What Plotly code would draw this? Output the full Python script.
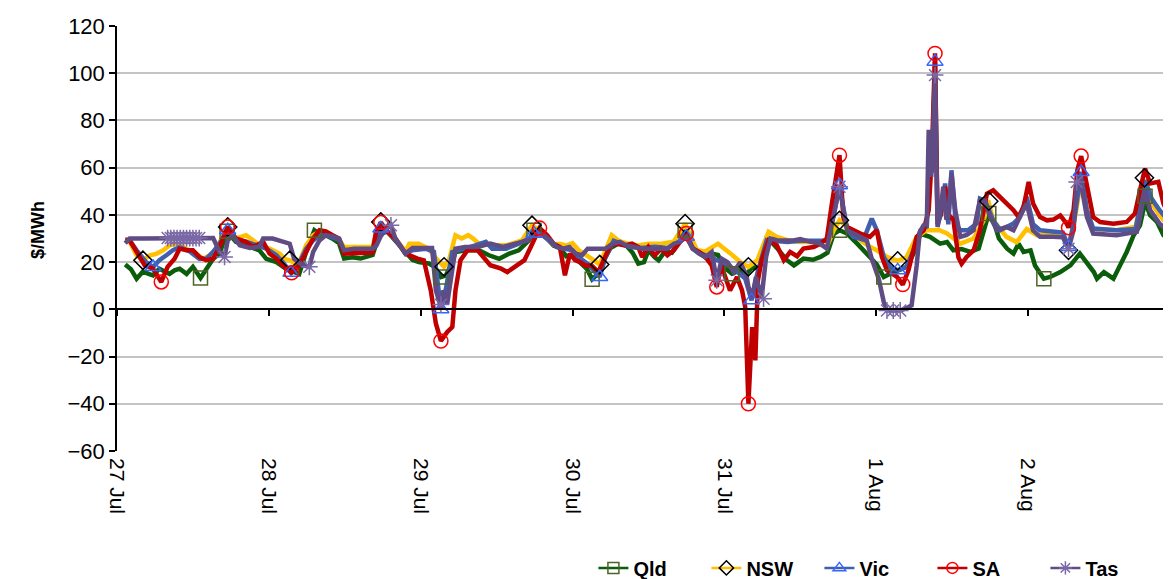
import plotly.graph_objects as go

# Hours since 27 Jul 00:00, price in $/MWh
day_ticks = [0, 24, 48, 72, 96, 120, 144]
day_labels = ["27 Jul", "28 Jul", "29 Jul", "30 Jul", "31 Jul", "1 Aug", "2 Aug"]
y_ticks = [-60, -40, -20, 0, 20, 40, 60, 80, 100, 120]
y_grid = [-60, -40, -20, 0, 20, 40, 60, 80, 100]

qld = [(1.3,19),(2.2,17),(3.1,13),(4.1,16),(5,15),(5.7,14.4),(6.7,17.2),(7.5,16),(8.3,15),(9.1,16.5),(9.9,17.2),(11,15),(12,18),(13.2,13.3),(14.1,17.2),(15.2,21.4),(16.2,23.6),(17.4,33),(18.8,28.6),(20.4,27),(21.5,26),(22.5,25),(23.6,21.4),(25.2,20),(26.7,17.2),(27.8,15.8),(28.8,15),(29.9,24.3),(31.2,33.5),(32.3,31.4),(33.3,31),
       (34,30),(35.1,28),(35.9,21.5),(37.2,22),(38.5,21.5),(39.5,22.5),(40.4,23),(41,28),(41.7,32),(42.7,33),(44,29),(45.6,24.3),(46.7,21),(47.7,20),(49.3,19.4),(50.2,18),(51.2,13.7),(52,14.4),(53,20),(53.5,24.3),(55.1,25),(57.2,25),(58.8,22.9),(60.4,21.4),(62,23.6),(63.5,25),(65.1,29.2),(65.9,33.5),
       (67,32),(68,30),(69,27),(70,26),(71,22.5),(72,22.9),(73.2,20),(74.3,17),(75.1,12.7),(76,15),(77,21),(78,26),(79.3,28),(80.5,27),(81.5,24),(82.4,19.4),(83.3,20),(84,25),(85,22),(85.6,20.8),(86.6,24.5),(87.7,24),(88.7,28),(89.8,33.5),(90.8,27),(91.9,24),(93,22),(94,23.6),(95,23),(95.9,18),(97.2,15.1),(98.5,16.5),(99.5,15),(100.5,18),(101.5,17),(102.7,30.7),(104.3,26),(105.9,20.8),(107,18.6),(108.5,21.5),(110,21),(111.2,22.2),(112.3,24),(113.3,32),(114.2,33.5),(115.4,32.1),(117,27.8),(118.5,23.6),(120.1,19),(121.2,13.7),(122.5,15.5),(124,17),(124.8,18),(125.9,23.6),(127,32),(128.5,30.7),(130.1,27.8),(131.2,28.5),(132.2,25),(133.5,25.5),(134.9,24.3),(136.2,25.7),(137,32.8),(137.8,40.6),(138.6,37),(139.4,30),(140.7,25.7),(141.7,23.6),(142.5,27.8),(143.3,24.3),(144.4,25),(145.1,18.6),(146.5,13),(147.5,13.7),(149.1,15.8),(150.7,18.6),(152.2,23.6),(153.3,20),(154.4,15.8),(154.9,13),(156,15.8),(157.5,13),(158.6,18.6),(159.6,24.3),(160.7,31.4),(161.7,35.6),(162.5,45.5),(163.3,39.9),(164.4,37),(165.4,31.4),(166.6,28.6)]

nsw = [(1.3,29),(2,28.6),(3.1,22.9),(4.1,20.8),(5.2,22.9),(6.2,23.5),(7.3,25),(8.3,27.1),(9.4,27.8),(10.4,26.4),(11.5,25),(12.5,23.6),(13.6,21.4),(14.7,22.9),(15.7,25.7),(16.7,30.7),(17.5,34.9),(18.8,30),(20.4,31.4),(21.5,29.2),(22.5,27.1),(24.1,25.7),(25.7,23.6),(26.5,21.4),(27.3,20.8),(28.6,18.6),(29.9,27.1),(31,31.4),(32,32.8),(33,33),
       (34,31.5),(35.1,29.5),(35.9,26.4),(37.5,26.4),(39,26),(40.4,26.4),(40.9,32),(41.7,37),(42.7,33),(44,30),(45.6,24.5),(46.2,27.8),(47.7,27.8),(49.3,25.7),(50.3,22),(51.7,18),(52.5,21),(53.5,31.4),(54.5,30),(55.5,31.4),(56.3,30),(57.2,27.8),(59.3,27.1),(61.5,27.1),(64,29.2),(65.6,35.6),
       (67,33),(68,31),(69,27.5),(70,27.8),(71,27),(72,28),(73,25),(74,23.5),(75,21.5),(76.3,19),(77.2,25),(78.2,31.4),(79.3,29),(80.5,28),(82.4,27.1),(84,27.8),(86,27.8),(88,28.6),(89.8,36.3),(90.8,30),(91.7,25),(93,24.5),(95,27.8),(97,23.6),(98.5,20.1),(99.8,18),(101.2,20.8),(103,32.8),(104.3,30.7),(106,29.3),(108,28.5),(110,28.5),(112.2,26.4),(113.3,33.5),(114.2,37.7),(115.4,34.9),(117.5,29.3),(119,26.5),(120.1,25),(121.7,22.2),(123.4,20.5),(124.8,22.2),(126.4,30.7),(128,33.5),(130,33.5),(131.2,32.1),(133.3,27.8),(135.4,30),(137,37.7),(137.7,46.2),(138.5,37.7),(140.6,30.7),(142.2,28.5),(143.8,34),(145.4,31.4),(148,31.4),(149.6,30.5),(150.4,26),(151.5,40),(152.4,55),(153.3,42),(154.3,34),(158,33.5),(161,35),(162.5,54.7),(163.5,45),(164.8,40),(166.6,34)]

vic = [(1.3,29.5),(2,29.2),(3.1,25),(4.6,20),(5.7,17.9),(6.7,20.8),(7.8,22.9),(8.8,25),(9.9,26.4),(11.5,24.5),(13,21.4),(14.1,21.4),(15.2,24.3),(16.2,27.8),(17.5,33.5),(18.8,29.2),(20.4,28.6),(22,27.1),(23.6,25.7),(25.2,22.9),(26.2,20),(27.5,15.5),(28.6,18.6),(29.9,25.7),(31,29.2),(32,31.4),(33,31.5),
       (34,30.5),(35.1,29.5),(35.9,24.6),(37.5,24.6),(39,24),(40.4,24.6),(40.9,31),(41.7,34.2),(42.7,33),(44,29.5),(45.6,23.6),(46.7,25),(48.8,25.7),(50.1,24.3),(51.2,0),(52,8.8),(53,24.3),(55,25.7),(56.5,27),(58.3,28.6),(59.3,25.7),(61.5,25.7),(63.5,27.8),(65.1,30),(65.9,32.1),
       (67,32),(68,29.5),(69,27.5),(70,26),(71,25.5),(72,25),(73,22),(74.5,19),(75.5,16),(76.3,13.7),(77.2,22),(78.5,29),(79.5,28),(81,26.5),(83,26),(85,26.5),(87,26),(88.5,28),(90,30.7),(91,26),(92,24),(93,23),(94,22),(95,21),(96.5,19),(98,16),(99.3,13),(100.3,3.8),(101.2,15.1),(102.7,29.3),(104.3,29),(106,28.5),(108,29),(110,29),(112.2,29),(113.3,40),(114.2,52.6),(115.4,34),(116.4,30.7),(118,29.5),(119.3,38.4),(120.1,33.5),(121.2,22.2),(122.2,17.9),(123.4,16.5),(124.8,18),(125.9,25),(127,33.5),(128,35),(128.4,60),(128.8,58),(129.3,104.9),(129.7,36),(130.2,40),(130.9,53.3),(131.4,36),(131.9,58.9),(132.6,36),(133.3,33.5),(134.5,33.5),(135.9,36.3),(136.4,46.9),(137.2,46),(138.5,37.7),(139.6,33.5),(141.7,36.3),(142.7,39),(143.8,47.6),(144.8,36),(145.9,33.5),(148,33),(149.5,32.5),(150.4,26.4),(151.2,36),(152.4,58.2),(153.3,42),(154.3,34.2),(158,33.5),(161,34),(162.5,54.7),(163.5,47),(164.8,42),(166.6,36.3)]

sa = [(1.3,29.5),(2,29.2),(3.1,24.3),(4.4,18.6),(5.7,17.2),(7,11.6),(8,18),(9.1,21.4),(9.9,25.7),(11,25),(12,25),(13,22.2),(14.1,20.8),(15.2,21.4),(16.2,26.4),(17.5,34.9),(18.8,30),(20.4,28.6),(21.5,26.4),(23.1,28.6),(24.1,23.6),(25.2,21.4),(26.2,18.6),(27.6,15.5),(28.8,18.6),(29.9,24.3),(31,30),(32,33.5),(33,33),
      (34,31.5),(35.1,30),(35.9,23.6),(37.5,23.6),(39,24),(40.4,24),(40.9,32),(41.7,36.8),(42.7,33),(44,30),(45.6,23.6),(46.7,22.2),(47.5,21.5),(48.5,20.8),(49.6,8),(50.4,-6),(51.2,-13.4),(52.2,-9.6),(53,-7.5),(53.5,8),(54.3,20.8),(55.4,25),(57,25),(59,18.7),(60.6,17.4),(61.7,15.8),(63.3,18.7),(64.4,20.8),(65.4,26.4),(66.8,34.4),
      (68,31.4),(69,27.8),(70,26.4),(70.8,14.4),(71.6,23.6),(72.4,20.8),(73.2,20),(74,18.6),(75,18.6),(76.1,15.8),(77,21.4),(78,27.1),(79,27.8),(80.3,27.1),(81.4,27.8),(82.4,26.4),(83,22.2),(84,26.4),(85,22.9),(86,25.7),(87,22.9),(88,25),(89,28.6),(90,32.1),(91,25.7),(92,24.3),(93,22.2),(94,18.6),(94.8,9.5),(95.5,18.6),(96.9,8),(98,13.7),(98.8,8),(99.3,1),(99.8,-40),(100.4,-7.5),(100.9,-21.6),(101.3,12.3),(101.9,20.8),(103,29.2),(104.3,27.1),(105.4,20.8),(106.4,24.3),(107.5,22.5),(108.5,25.7),(110.1,26.4),(111.2,27.8),(112.2,30),(113,44.8),(114.2,65.3),(114.8,39.1),(115.4,34.9),(117.5,32.1),(119,30.7),(120.1,33.5),(120.9,22.2),(121.7,16.5),(123.3,13.7),(124.2,10.5),(125.1,16.5),(126.4,30.7),(127.5,33.5),(128.3,42),(128.8,65),(129.3,108.4),(129.7,38),(130.2,40),(130.9,52),(131.4,40),(132.2,38),(133,22),(133.5,19.3),(134.3,22.2),(135.4,25),(136.4,33.5),(137.5,49),(138.5,50.4),(139.6,47.6),(140.6,44.8),(141.7,42),(142.5,39.1),(143.3,43.4),(144.1,54),(144.8,44.8),(145.9,39.1),(147,37.7),(148,38),(149.1,39.8),(150.1,36.3),(150.4,34.6),(151.2,42),(151.8,58.9),(152.4,64.9),(153.3,53.3),(154.3,39.1),(155.4,37),(157.5,36.3),(159.6,37),(160.9,40.6),(161.7,50.4),(162.5,59.6),(163.3,53.3),(164.6,54),(165.4,44.8),(166.6,38)]

tas = [(1.3,28),(2,30),(4,30),(6,30),(8,30.2),(10,30.2),(12,30.2),(14,30),(15.2,30.2),(16.2,24.3),(17,22.2),(17.5,29.2),(18.3,31.4),(19.4,27.1),(21,26),(22.5,26.5),(23.1,30),(24.6,30),(26.2,28.6),(27.3,27.8),(28,21.4),(29.4,18.6),(30.4,18),(31,24.3),(32,29.2),(33,31.4),
       (34,31),(35.1,30),(35.9,25),(37.5,25.7),(40.4,25.7),(41,27),(41.7,31),(42.5,34),(43.3,35.6),(44,30),(45.6,23.6),(46.7,26),(49.8,26),(50.4,8),(51.2,1),(51.6,8),(52.2,2.4),(52.8,13.6),(53.5,25.7),(55,26.4),(57,26.4),(59,27.8),(61,26.4),(62.5,27.5),(63.8,28.5),(64.9,29.2),(66,32.7),
       (67.5,31.4),(68.5,29.2),(69.5,26.4),(70.5,25.7),(71.5,26.4),(72.5,23.6),(73.5,22.9),(74.4,25.7),(77.2,25.7),(78.4,27.8),(79.5,28.6),(80.5,27.1),(81.5,26.4),(83,25.7),(85,25.7),(87,25.7),(88,27.8),(89,28.6),(90,30.7),(91,25.7),(92,23.6),(93,22.2),(94,24.3),(94.8,12.3),(95.6,21.4),(96.5,20),(97.5,15.8),(98.5,20),(99.5,14.4),(99.8,9.5),(100.4,5.2),(101,13.7),(101.9,5),(102.6,22.2),(103.3,30),(104.3,29.3),(106.9,29.2),(108,29.8),(109.6,28.6),(111,28),(112.2,25.7),(113,35.6),(114.2,51.9),(115.4,33.5),(117.5,30.7),(118.5,29.3),(119.3,21.4),(120.4,13),(121.2,3.1),(121.7,-0.5),(122.7,-0.5),(123.8,-0.5),(124.8,0.5),(125.6,1.7),(126.4,18.6),(126.9,32.8),(127.5,35.6),(128,36.3),(128.3,76),(128.7,56.1),(129,75),(129.3,99.2),(129.7,34.9),(130.1,40),(130.6,51.9),(131.1,38),(131.4,39.1),(131.9,57.5),(132.5,42),(133.3,30.7),(134.3,31.5),(135.4,33.5),(136.4,46.2),(137.2,46),(138,39.1),(139.1,33.5),(140.6,34.9),(141.7,33.5),(142.7,39.1),(143.8,44.8),(144.8,33.5),(145.9,30.7),(148,30.7),(149.5,30.5),(150.4,25.7),(151.2,33.5),(151.7,53.9),(152.2,56),(153.3,39.1),(154.3,32.1),(158,31.4),(161.2,32.8),(161.7,39.1),(162.5,50.4),(163.3,42),(164.8,36.3),(166.6,32.1)]

# Daily max / min markers
qld_marks = [(13.2,13.3),(17.4,33.1),(31.2,33.5),(51.2,13.7),(65.9,33.5),(75.1,12.7),(89.8,33.5),(97.2,15.1),(114.2,33.5),(121.2,13.7),(137.8,40.6),(146.5,13),(162.5,47.9)]
nsw_marks = [(4.1,20.8),(17.5,34.9),(27.3,20.8),(41.7,37),(51.7,18),(65.6,35.6),(76.3,19),(89.8,36.3),(99.8,18),(114.2,37.7),(123.4,20.5),(137.8,45.8),(150.4,25),(162.4,55.7)]
vic_marks = [(5.7,17.9),(17.5,33.5),(27.5,15.5),(41.7,34.2),(51.2,0),(65.9,32.1),(76.3,13.7),(90,30.7),(100.3,3.8),(114.2,52.6),(123.4,16.5),(129.3,104.9),(150.4,26.4),(152.4,58.2)]
sa_marks = [(7,11.6),(17.5,34.9),(27.6,15.5),(41.7,36.8),(51.2,-13.4),(66.8,34.4),(90,32.1),(94.8,9.5),(99.8,-40),(114.2,65.3),(124.2,10.5),(129.3,108.4),(150.4,34.6),(152.4,64.9)]
tas_marks = [(8,30.2),(8.5,30.2),(9,30.2),(9.5,30.2),(10,30.2),(10.5,30.2),(11,30.2),(11.5,30.2),(12,30.2),(12.5,30.2),(13,30.2),(17,22.2),(30.4,18),(43.3,35.6),(51.2,2),(94.8,12.3),(102.2,4.5),(114.2,51.9),(121.7,-0.5),(122.7,-0.5),(123.8,-0.5),(129.3,99.2),(150.4,25.7),(151.7,53.9)]

names = ["Qld", "NSW", "Vic", "SA", "Tas"]
series = [qld, nsw, vic, sa, tas]
marks = [qld_marks, nsw_marks, vic_marks, sa_marks, tas_marks]
line_colors = ["#0B5D0B", "#FFC000", "#4060AE", "#C00000", "#604C85"]
mark_colors = ["#4F6228", "#000000", "#3366FF", "#FF0000", "#7B68A6"]
symbols = ["square-open", "diamond-open", "triangle-up-open", "circle-open", "asterisk-open"]

fig = go.Figure()
# invisible helper traces so the extra axes (grid / zero-crossing ticks) are drawn
fig.add_trace(go.Scatter(x=[None], y=[None], xaxis="x", yaxis="y2", showlegend=False, hoverinfo="skip"))
for name, s, col in zip(names, series, line_colors):
    fig.add_trace(go.Scatter(x=[p[0] for p in s], y=[p[1] for p in s], mode="lines",
                             line=dict(color=col, width=4.5), showlegend=False, hoverinfo="skip"))
for name, m, col, mc, sym in zip(names, marks, line_colors, mark_colors, symbols):
    fig.add_trace(go.Scatter(x=[p[0] for p in m], y=[p[1] for p in m], mode="markers",
                             marker=dict(symbol=sym, size=14, color=mc, line=dict(color=mc, width=1.5)),
                             showlegend=False, hoverinfo="skip"))
for name, col, mc, sym in zip(names, line_colors, mark_colors, symbols):
    fig.add_trace(go.Scatter(x=[None], y=[None], mode="lines+markers", name="<b>" + name + "</b>",
                             line=dict(color=col, width=2.5),
                             marker=dict(symbol=sym, size=11, color=mc, line=dict(color=mc, width=1.5))))
fig.add_trace(go.Scatter(x=[None], y=[None], xaxis="x2", showlegend=False, hoverinfo="skip"))

font_family = "Arial, Liberation Sans, sans-serif"
xrange = [0, 166.6]
yrange = [-60, 120]
# the page body adds an 8px offset, so the figure is sized 8px smaller
fig.update_layout(
    width=1163, height=571,
    margin=dict(l=109, r=0, t=18, b=128, autoexpand=False),
    plot_bgcolor="white", paper_bgcolor="white",
    font=dict(family=font_family, size=21, color="black"),
    xaxis=dict(range=xrange, tickvals=day_ticks, ticktext=day_labels, tickangle=90,
               showgrid=False, zeroline=False, showline=False, ticks="", automargin=False,
               ticklabelstandoff=6, tickfont=dict(size=21)),
    xaxis2=dict(range=xrange, overlaying="x", anchor="free", position=1/3,
                tickvals=day_ticks, showticklabels=False, ticks="outside", ticklen=6,
                tickcolor="black", tickwidth=1.5, showline=True, linecolor="black", linewidth=1.5,
                showgrid=False, zeroline=False, automargin=False),
    yaxis=dict(range=yrange, tickvals=y_ticks, showgrid=False,
               zeroline=True, zerolinecolor="black", zerolinewidth=1.5,
               showline=True, linecolor="black", linewidth=1.5,
               ticks="outside", ticklen=6, tickcolor="black", tickwidth=1.5,
               tickfont=dict(size=22), automargin=False),
    yaxis2=dict(range=yrange, overlaying="y", tickvals=y_grid, showgrid=True,
                gridcolor="#C4C4C4", gridwidth=1.5, showticklabels=False, ticks="",
                zeroline=False, showline=False, automargin=False),
    legend=dict(orientation="h", x=0.452, xanchor="left", y=-0.275, yanchor="middle",
                font=dict(size=20, family=font_family, color="black"), bgcolor="rgba(0,0,0,0)",
                entrywidth=68, entrywidthmode="pixels", traceorder="normal"),
    annotations=[dict(text="<b>$/MWh</b>", xref="paper", yref="paper", x=-0.075, y=0.52,
                      textangle=-90, showarrow=False, font=dict(size=18, family=font_family),
                      xanchor="center", yanchor="middle")],
)

fig.write_html("out.html")
